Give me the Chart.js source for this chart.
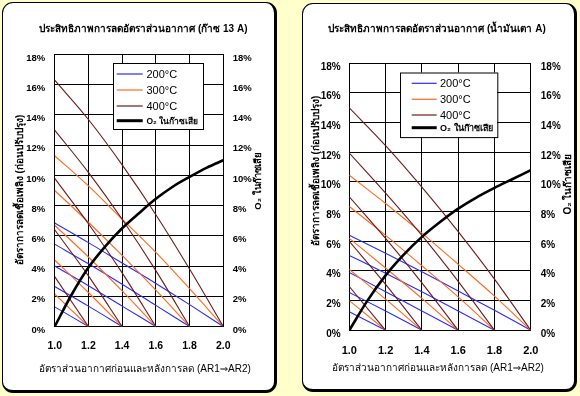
<!DOCTYPE html>
<html>
<head>
<meta charset="utf-8">
<script src="https://cdn.jsdelivr.net/npm/chart.js@4.4.1/dist/chart.umd.min.js"></script>
<style>
  html, body { margin:0; padding:0; }
  body { width:580px; height:396px; background:#FFFFCC; position:relative; overflow:hidden; }
  .panel { position:absolute; background:#fff; border:1.5px solid #000; border-right-width:3px; border-bottom-width:3px; border-radius:11px; box-sizing:border-box; }
  #p1 { left:1.5px; top:1.5px; width:275.5px; height:391.5px; }
  #p2 { left:301.5px; top:2.5px; width:275.5px; height:389.5px; }
  .cv { position:absolute; top:0; width:290px; height:396px; }
  #c1 { left:0; }
  #c2 { left:290px; }
</style>
</head>
<body>
<div class="panel" id="p1"></div>
<div class="panel" id="p2"></div>
<div class="cv" id="c1"><canvas id="chart1" width="290" height="396"></canvas></div>
<div class="cv" id="c2"><canvas id="chart2" width="290" height="396"></canvas></div>
<script>
// ---------- DATA ----------
const xTickLabels = ['1.0','1.2','1.4','1.6','1.8','2.0'];
const yTickLabels = ['0%','2%','4%','6%','8%','10%','12%','14%','16%','18%'];
const arPoints = [1.0, 1.2, 1.4, 1.6, 1.8, 2.0];          // AR2 positions of the read values
const o2Points = [1.0, 1.1, 1.2, 1.3, 1.4, 1.5, 1.6, 1.7, 1.8, 1.9, 2.0];
const legendLabels = ['200°C', '300°C', '400°C', 'O₂ ในก๊าซเสีย'];

// Gas 13A : fuel saving (%) for starting air ratio AR1 = 1.2, 1.4, 1.6, 1.8, 2.0
const gas200 = [[1.3,0],[2.65,1.35,0],[4.0,2.7,1.35,0],[5.45,4.15,2.8,1.4,0],[6.85,5.55,4.2,2.85,1.45,0]];
const gas300 = [[2.15,0],[4.4,2.25,0],[6.7,4.6,2.35,0],[9.0,6.9,4.7,2.4,0],[11.3,9.3,7.1,4.9,2.5,0]];
const gas400 = [[3.3,0],[6.4,3.35,0],[9.8,6.8,3.55,0],[13.0,10.2,7.1,3.7,0],[16.3,13.7,10.7,7.4,3.8,0]];
const gasO2  = [0, 2.1, 3.9, 5.3, 6.5, 7.5, 8.45, 9.25, 9.9, 10.5, 11.0];

// Oil A
const oil200 = [[1.25,0],[2.55,1.3,0],[3.9,2.6,1.3,0],[5.05,3.85,2.6,1.3,0],[6.4,5.2,3.95,2.65,1.35,0]];
const oil300 = [[2.0,0],[4.1,2.1,0],[6.2,4.2,2.15,0],[8.35,6.4,4.35,2.25,0],[10.45,8.55,6.55,4.45,2.3,0]];
const oil400 = [[2.95,0],[6.0,3.1,0],[9.0,6.2,3.2,0],[11.95,9.25,6.4,3.3,0],[15.0,12.45,9.65,6.65,3.45,0]];
const oilO2  = [0, 2.0, 3.7, 5.1, 6.3, 7.3, 8.2, 8.95, 9.6, 10.2, 10.8];

const titles1 = { title:'ประสิทธิภาพการลดอัตราส่วนอากาศ (ก๊าซ 13 A)' };
const titles2 = { title:'ประสิทธิภาพการลดอัตราส่วนอากาศ (น้ำมันเตา A)' };
const xTitle = 'อัตราส่วนอากาศก่อนและหลังการลด (AR1⇒AR2)';
const yTitle = 'อัตราการลดเชื้อเพลิง (ก่อนปรับปรุง)';
const y2Title = 'O₂ ในก๊าซเสีย';

// ---------- STYLE ----------
const FONT = "'Liberation Sans', Arial, 'DejaVu Sans', 'Noto Sans', sans-serif";
Chart.defaults.font.family = FONT;
const COLORS = { c200:'#2b2bff', c300:'#ff6a1f', c400:'#701a1a', o2:'#000000' };

function buildDatasets(s200, s300, s400, o2) {
  const ds = [];
  ds.push({ data: o2Points.map((x,i)=>({x, y:o2[i]})), borderColor:COLORS.o2, borderWidth:2.6,
            cubicInterpolationMode:'monotone', pointRadius:0, yAxisID:'y2' });
  const groups = [[s400, COLORS.c400], [s300, COLORS.c300], [s200, COLORS.c200]];
  groups.forEach(([set, col]) => {
    set.forEach(vals => {
      ds.push({ data: vals.map((v,i)=>({x:arPoints[i], y:v})), borderColor:col, borderWidth:1.1,
                cubicInterpolationMode:'monotone', pointRadius:0, yAxisID:'y' });
    });
  });
  return ds;
}

const extras = {
  id: 'extras',
  afterDraw(chart, args, o) {
    const ctx = chart.ctx;
    ctx.save();
    ctx.fillStyle = '#000';
    ctx.textAlign = 'center';
    ctx.textBaseline = 'middle';
    ctx.font = 'bold ' + o.titleSize + 'px ' + FONT;
    ctx.fillText(o.title, o.titleX, o.titleY);
    ctx.font = o.xTitleSize + 'px ' + FONT;
    ctx.fillText(xTitle, o.xTitleX, o.xTitleY);
    // rotated titles
    ctx.font = 'bold ' + o.yTitleSize + 'px ' + FONT;
    ctx.save(); ctx.translate(o.yTitleX, o.yTitleY); ctx.rotate(-Math.PI/2);
    ctx.fillText(yTitle, 0, 0); ctx.restore();
    ctx.font = 'bold ' + o.y2TitleSize + 'px ' + FONT;
    ctx.save(); ctx.translate(o.y2TitleX, o.y2TitleY); ctx.rotate(-Math.PI/2);
    ctx.fillText(y2Title, 0, 0); ctx.restore();
    // legend box
    const L = o.legend;
    ctx.fillStyle = '#fff';
    ctx.fillRect(L.x, L.y, L.w, L.h);
    ctx.strokeStyle = '#000'; ctx.lineWidth = 1;
    ctx.strokeRect(L.x + 0.5, L.y + 0.5, L.w, L.h);
    const cols = [COLORS.c200, COLORS.c300, COLORS.c400, COLORS.o2];
    const widths = [1.2, 1.2, 1.2, 3];
    ctx.textAlign = 'left';
    legendLabels.forEach((lab, i) => {
      const yy = L.rows[i];
      ctx.beginPath(); ctx.strokeStyle = cols[i]; ctx.lineWidth = widths[i];
      ctx.moveTo(L.lx1, yy); ctx.lineTo(L.lx2, yy); ctx.stroke();
      ctx.fillStyle = '#000';
      ctx.font = (i === 3 ? 'bold ' + L.o2Size : L.size) + 'px ' + FONT;
      ctx.fillText(lab, L.tx, yy + 0.5);
    });
    ctx.restore();
  }
};

function makeChart(id, datasets, pad, tick, extraOpts) {
  return new Chart(document.getElementById(id), {
    type: 'line',
    data: { datasets },
    plugins: [extras],
    options: {
      responsive: false, animation: false,
      layout: { padding: pad },
      plugins: { legend: { display:false }, tooltip: { enabled:false }, extras: extraOpts },
      scales: {
        x: {
          type: 'linear', min: 1.0, max: 2.0,
          afterFit: s => { s.height = 30; },
          grid: { color:'#000', lineWidth:1, drawTicks:false },
          border: { color:'#000', width:1 },
          ticks: { stepSize:0.2, padding:tick.x, color:'#000', font:{ size:tick.xSize, weight:'bold' },
                   callback: (v, i) => xTickLabels[i] }
        },
        y: {
          position: 'left', min: 0, max: 18,
          afterFit: s => { s.width = 30; },
          grid: { color:'#000', lineWidth:1, drawTicks:false },
          border: { color:'#000', width:1 },
          ticks: { stepSize:2, padding:tick.y, labelOffset:3.5, color:'#000', font:{ size:tick.ySize, weight:'bold' },
                   callback: (v, i) => yTickLabels[i] }
        },
        y2: {
          position: 'right', min: 0, max: 18,
          afterFit: s => { s.width = 30; },
          grid: { drawOnChartArea:false, drawTicks:false },
          border: { color:'#000', width:1 },
          ticks: { stepSize:2, padding:tick.y2, labelOffset:3.5, color:'#000', font:{ size:tick.ySize, weight:'bold' },
                   callback: (v, i) => yTickLabels[i] }
        }
      }
    }
  });
}

makeChart('chart1', buildDatasets(gas200, gas300, gas400, gasO2),
  { left:24.7, right:36.7, top:54.5, bottom:39.5 },
  { x:13, y:9.5, y2:9.4, xSize:10.5, ySize:9.5 },
  { title:titles1.title, titleSize:10, titleX:143.3, titleY:29,
    xTitleSize:10, xTitleX:145, xTitleY:369,
    yTitleSize:10, yTitleX:20, yTitleY:190,
    y2TitleSize:9.5, y2TitleX:258.5, y2TitleY:181,
    legend:{ x:113, y:63, w:90, h:66, rows:[74, 90, 106, 120.7], lx1:116.7, lx2:142.7, tx:146.5, size:11, o2Size:8.5 } });

makeChart('chart2', buildDatasets(oil200, oil300, oil400, oilO2),
  { left:29.3, right:19.2, top:63.3, bottom:35.7 },
  { x:14.3, y:8.6, y2:10, xSize:11, ySize:10 },
  { title:titles2.title, titleSize:10, titleX:147, titleY:29.3,
    xTitleSize:10, xTitleX:148, xTitleY:368.5,
    yTitleSize:10, yTitleX:26.5, yTitleY:171,
    y2TitleSize:10, y2TitleX:278, y2TitleY:184,
    legend:{ x:110, y:72.5, w:97.3, h:64.6, rows:[83.3, 99.3, 115, 127.7], lx1:121.7, lx2:146.7, tx:150, size:11, o2Size:9 } });
</script>
</body>
</html>
